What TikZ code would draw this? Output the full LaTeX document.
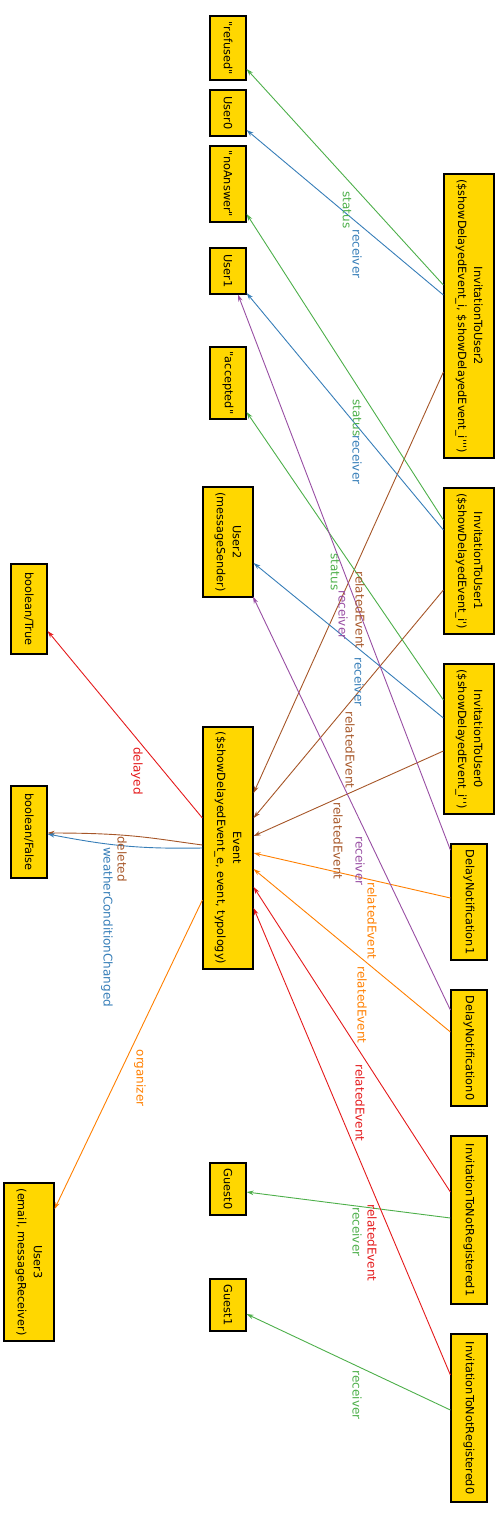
\documentclass[tikz,border=0pt]{standalone}
\usepackage{fontspec}
\newfontfamily\dv{DejaVu Sans}
\usetikzlibrary{calc,arrows.meta}
\definecolor{gold}{HTML}{FFD700}
\definecolor{cgreen}{HTML}{4DAF4A}
\definecolor{cblue}{HTML}{377EB8}
\definecolor{cbrown}{HTML}{A65628}
\definecolor{cpurple}{HTML}{984EA3}
\definecolor{corange}{HTML}{FF7F00}
\definecolor{cred}{HTML}{E41A1C}
\begin{document}
\begin{tikzpicture}[x=1pt,y=-1pt,
  box/.style={draw=black,line width=1.2pt,fill=gold,rotate=-90,inner sep=0pt,
    font=\dv\fontsize{11.3}{16}\selectfont,align=center},
  lbl/.style={rotate=-90,inner sep=0pt,font=\dv\fontsize{12}{16}\selectfont},
  edge/.style={line width=0.9pt,-{Stealth[length=7pt,width=4.5pt]}}]
\useasboundingbox (0,0) rectangle (500,1513);
% left-middle column
\node[box,minimum width=64pt,minimum height=36pt] (refused) at (228,48) {"refused"};
\node[box,minimum width=46pt,minimum height=36pt] (user0) at (228,113) {User0};
\node[box,minimum width=76pt,minimum height=36pt] (noanswer) at (228,184) {"noAnswer"};
\node[box,minimum width=46pt,minimum height=36pt] (user1) at (228,271) {User1};
\node[box,minimum width=72pt,minimum height=36pt] (accepted) at (228,383) {"accepted"};
\node[box,minimum width=110pt,minimum height=50pt] (user2) at (228,542) {User2\\(messageSender)};
\node[box,minimum width=242pt,minimum height=50pt] (event) at (228,848) {Event\\(\$showDelayedEvent\_e, event, typology)};
\node[box,minimum width=52pt,minimum height=36pt] (guest0) at (228,1189) {Guest0};
\node[box,minimum width=52pt,minimum height=36pt] (guest1) at (228,1305) {Guest1};
% far left column
\node[box,minimum width=90pt,minimum height=36pt] (btrue) at (29,609) {boolean/True};
\node[box,minimum width=92pt,minimum height=36pt] (bfalse) at (29,832) {boolean/False};
\node[box,minimum width=158pt,minimum height=50pt] (user3) at (29,1262) {User3\\(email, messageReceiver)};
% right column
\node[box,minimum width=284pt,minimum height=50pt] (itu2) at (469,316) {InvitationToUser2\\(\$showDelayedEvent\_i, \$showDelayedEvent\_i''')};
\node[box,minimum width=146pt,minimum height=50pt] (itu1) at (469,561) {InvitationToUser1\\(\$showDelayedEvent\_i')};
\node[box,minimum width=150pt,minimum height=50pt] (itu0) at (469,739) {InvitationToUser0\\(\$showDelayedEvent\_i'')};
\node[box,minimum width=116pt,minimum height=36pt] (dn1) at (469,902) {DelayNotification1};
\node[box,minimum width=116pt,minimum height=36pt] (dn0) at (469,1048) {DelayNotification0};
\node[box,minimum width=168pt,minimum height=36pt] (itnr1) at (469,1220) {InvitationToNotRegistered1};
\node[box,minimum width=168pt,minimum height=36pt] (itnr0) at (469,1418) {InvitationToNotRegistered0};
% edges from InvitationToUser2
\draw[edge,cgreen] ($(itu2.south)+(0,-31)$) -- ($(refused.north)+(0,21)$);
\draw[edge,cblue] ($(itu2.south)+(0,-21)$) -- ($(user0.north)+(0,17)$);
\draw[edge,cbrown] ($(itu2.south)+(0,56)$) -- ($(event.north)+(0,-55)$);
% InvitationToUser1
\draw[edge,cgreen] ($(itu1.south)+(0,-41)$) -- ($(noanswer.north)+(0,30)$);
\draw[edge,cblue] ($(itu1.south)+(0,-31)$) -- ($(user1.north)+(0,22)$);
\draw[edge,cbrown] ($(itu1.south)+(0,29)$) -- ($(event.north)+(0,-30)$);
% InvitationToUser0
\draw[edge,cgreen] ($(itu0.south)+(0,-39)$) -- ($(accepted.north)+(0,29)$);
\draw[edge,cblue] ($(itu0.south)+(0,-21)$) -- ($(user2.north)+(0,21)$);
\draw[edge,cbrown] ($(itu0.south)+(0,12)$) -- ($(event.north)+(0,-12)$);
% DelayNotifications
\draw[edge,cpurple] ($(dn1.south)+(0,-52)$) -- ($(user1.east)+(10,0)$);
\draw[edge,corange] ($(dn1.south)+(0,-4)$) -- ($(event.north)+(0,5)$);
\draw[edge,cpurple] ($(dn0.south)+(0,-38)$) -- ($(user2.east)+(25,-1)$);
\draw[edge,corange] ($(dn0.south)+(0,-16)$) -- ($(event.north)+(0,21)$);
% InvitationToNotRegistered
\draw[edge,cred] ($(itnr1.south)+(0,-28)$) -- ($(event.north)+(0,39)$);
\draw[edge,cgreen] ($(itnr1.south)+(0,-2)$) -- ($(guest0.north)+(0,3)$);
\draw[edge,cred] ($(itnr0.south)+(0,-43)$) -- ($(event.north)+(0,60)$);
\draw[edge,cgreen] ($(itnr0.south)+(0,-8)$) -- ($(guest1.north)+(0,9)$);
% Event outgoing
\draw[edge,cred] ($(event.south)+(0,-30)$) -- ($(btrue.north)+(0,22)$);
\draw[edge,cbrown] ($(event.south)+(0,-3)$) .. controls (150,838) and (130,833) .. ($(bfalse.north)+(0,1)$);
\draw[edge,cblue] ($(event.south)+(0,0)$) .. controls (140,849) and (110,846) .. ($(bfalse.north)+(0,2)$);
\draw[edge,corange] ($(event.south)+(0,52)$) -- ($(user3.north)+(0,-53)$);
% labels
\node[lbl,text=cgreen] (l1) at (347,210) {status};
\node[lbl,text=cblue] (l2) at (357,254) {receiver};
\node[lbl,text=cgreen] (l3) at (357,418) {status};
\node[lbl,text=cblue] (l4) at (357,460) {receiver};
\node[lbl,text=cgreen] (l5) at (335,572) {status};
\node[lbl,text=cpurple] (l6) at (343,615) {receiver};
\node[lbl,text=cbrown] (l7) at (360,610) {relatedEvent};
\node[lbl,text=cblue] (l8) at (359,682) {receiver};
\node[lbl,text=cbrown] (l9) at (350,750) {relatedEvent};
\node[lbl,text=cbrown] (l10) at (338,841) {relatedEvent};
\node[lbl,text=cpurple] (l11) at (360,861) {receiver};
\node[lbl,text=corange] (l12) at (372,921) {relatedEvent};
\node[lbl,text=corange] (l13) at (362,1005) {relatedEvent};
\node[lbl,text=cred] (l14) at (360,1103) {relatedEvent};
\node[lbl,text=cred] (l15) at (372,1243) {relatedEvent};
\node[lbl,text=cgreen] (l16) at (357,1232) {receiver};
\node[lbl,text=cgreen] (l17) at (357,1395) {receiver};
\node[lbl,text=cred] (l18) at (137,771) {delayed};
\node[lbl,text=cbrown] (l19) at (122,859) {deleted};
\node[lbl,text=cblue] (l20) at (107,927) {weatherConditionChanged};
\node[lbl,text=corange] (l21) at (140,1078) {organizer};
\end{tikzpicture}
\end{document}
